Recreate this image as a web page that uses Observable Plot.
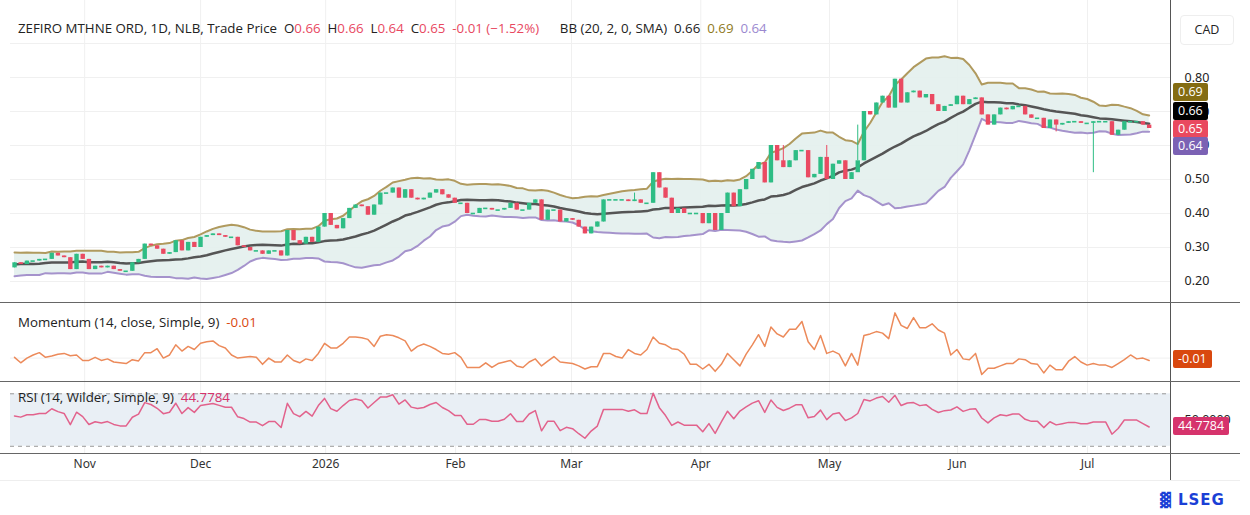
<!DOCTYPE html>
<html><head><meta charset="utf-8">
<script src="https://cdn.jsdelivr.net/npm/d3@7"></script>
<script src="https://cdn.jsdelivr.net/npm/@observablehq/plot@0.6"></script>
<style>
body{margin:0;background:#fff;font-family:"Open Sans",sans-serif;}
#wrap{position:relative;width:1250px;height:515px;overflow:hidden;}
.abs{position:absolute;white-space:nowrap;}
.box{position:absolute;left:1173px;color:#fff;font-size:12.5px;padding:0 5px;height:18px;line-height:18px;border-radius:2px;transform:translateY(-50%);}
.hdr{font-size:13.3px;color:#222;}
svg{position:absolute;left:0;}
</style></head><body><div id="wrap"></div>
<script>
// ---- data ----
const preCloses = [0.23,0.24,0.27,0.26,0.22,0.25,0.28,0.26,0.24,0.23,0.26,0.27,0.25,0.24,0.22,0.26,0.28,0.25,0.24];
const closes = [
0.255,0.25,0.26,0.26,0.265,0.265,0.283,0.275,0.27,0.235,0.28,0.265,0.235,0.245,0.24,0.245,0.235,0.23,0.23,0.255,
0.265,0.31,0.305,0.295,0.28,0.285,0.32,0.29,0.315,0.30,0.33,0.335,0.34,0.335,0.33,0.33,0.305,0.30,0.29,0.29,
0.28,0.29,0.29,0.275,0.35,0.32,0.31,0.33,0.315,0.36,0.40,0.365,0.355,0.385,0.415,0.425,0.42,0.395,0.425,0.46,
0.46,0.475,0.445,0.47,0.445,0.44,0.445,0.46,0.47,0.455,0.445,0.43,0.43,0.40,0.40,0.415,0.415,0.41,0.41,0.415,
0.43,0.41,0.41,0.43,0.44,0.38,0.41,0.41,0.375,0.385,0.38,0.36,0.34,0.36,0.375,0.44,0.44,0.44,0.44,0.435,
0.44,0.43,0.43,0.52,0.475,0.445,0.40,0.415,0.40,0.40,0.40,0.37,0.40,0.35,0.40,0.46,0.42,0.47,0.50,0.53,
0.55,0.49,0.60,0.555,0.535,0.555,0.585,0.585,0.505,0.515,0.565,0.50,0.545,0.555,0.50,0.52,0.555,0.70,0.69,0.725,
0.745,0.71,0.795,0.725,0.755,0.76,0.74,0.75,0.72,0.70,0.715,0.72,0.745,0.72,0.735,0.74,0.69,0.66,0.69,0.71,
0.705,0.715,0.715,0.69,0.68,0.68,0.65,0.675,0.66,0.665,0.67,0.67,0.665,0.665,0.67,0.67,0.67,0.63,0.645,0.67,
0.67,0.67,0.66,0.65];
const wickOverrides = [[-10, 0.52],[-53,0.60],[-48,0.66],[-16,0.64]]; // [offset from end, low]
const highOverrides = [[-60,0.60],[-84,0.46]];
const monthLabels = ["Nov","Dec","2026","Feb","Mar","Apr","May","Jun","Jul"];
const monthPos   = [11.5,30.5,51,72.3,91.3,112.5,133.6,154.6,175.9];
const priceTicks = [0.2,0.3,0.4,0.5,0.6,0.7,0.8];
const gridTicks  = [0.2,0.3,0.4,0.5,0.6,0.7,0.8,0.9];
const header = {name:"ZEFIRO MTHNE ORD, 1D, NLB, Trade Price", o:"0.66", h:"0.66", l:"0.64", c:"0.65", chg:"-0.01 (\u22121.52%)", bb:"BB (20, 2, 0, SMA)", bbMid:"0.66", bbUp:"0.69", bbLo:"0.64"};
const lastMom = -0.01, lastRSI = 44.7784;

// ---- derived ----
const all = preCloses.concat(closes);
const P = preCloses.length, N = closes.length;
const slot = 186/(N-1);
const rows = closes.map((c,k)=>{
  const g=k+P, o=all[g-1];
  const win=all.slice(g-19,g+1), m=d3.mean(win), sd=d3.deviation(win)*Math.sqrt(19/20);
  return {i:k*slot,o,c,hi:Math.max(o,c),lo:Math.min(o,c),up:c>=o,mid:m,upper:m+2*sd,lower:m-2*sd,mom:c-all[g-14]};
});
wickOverrides.forEach(([off,v])=>rows[N+off].lo=v);
highOverrides.forEach(([off,v])=>rows[N+off].hi=v);
let ag=0,al=0;
for(let g=1;g<all.length;g++){const d=all[g]-all[g-1],gn=Math.max(d,0),ls=Math.max(-d,0);
  if(g<=14){ag+=gn/14;al+=ls/14;} else {ag=(ag*13+gn)/14;al=(al*13+ls)/14;}
  if(g>=P) rows[g-P].rsi = al===0?100:100-100/(1+ag/al);}

const G="#2ebd85",R="#ea4a62";
const xd=[-0.66,189.5];
const common={width:1250,marginLeft:10,marginRight:80,x:{domain:xd,axis:null}};
const wrap=document.getElementById("wrap");
function add(el,top){el.style.top=top+"px";wrap.appendChild(el);return el;}
const vgrid=Plot.ruleX(monthPos,{stroke:"#f0f0f0"});

const main=Plot.plot({...common,height:302,marginTop:0,marginBottom:0,
  y:{domain:[0.1382,1.0265],axis:null},
  marks:[
    Plot.ruleY(gridTicks,{stroke:"#f0f0f0"}),vgrid,
    Plot.areaY(rows,{x:"i",y1:"lower",y2:"upper",fill:"#e3efed",fillOpacity:0.9}),
    Plot.lineY(rows,{x:"i",y:"upper",stroke:"#b09a5e",strokeWidth:2}),
    Plot.lineY(rows,{x:"i",y:"lower",stroke:"#a593cc",strokeWidth:2}),
    Plot.lineY(rows,{x:"i",y:"mid",stroke:"#555",strokeWidth:2.5}),
    Plot.ruleX(rows,{x:"i",y1:"lo",y2:"hi",stroke:d=>d.up?G:R,strokeWidth:1}),
    Plot.ruleX(rows.filter(d=>Math.abs(d.c-d.o)>=0.004),{x:"i",y1:d=>Math.min(d.o,d.c),y2:d=>Math.max(d.o,d.c),stroke:d=>d.up?G:R,strokeWidth:4.4}),
    Plot.ruleY(rows.filter(d=>Math.abs(d.c-d.o)<0.004),{y:"c",x1:d=>d.i-0.35,x2:d=>d.i+0.35,stroke:d=>d.up?G:R,strokeWidth:1.6}),
    Plot.text(priceTicks,{x:xd[1],y:d=>d,text:d=>d.toFixed(2),textAnchor:"start",dx:14,fontSize:12.5,fill:"#222",clip:false})
  ]});
add(main,0);

const mom=Plot.plot({...common,height:78,marginTop:0,marginBottom:0,
  y:{domain:[-0.15,0.35],axis:null},
  marks:[vgrid,Plot.ruleY([0],{stroke:"#f0f0f0"}),
    Plot.lineY(rows,{x:"i",y:"mom",stroke:"#ec8a5a",strokeWidth:1.5})]});
add(mom,303);

const rsi=Plot.plot({...common,height:98,marginTop:0,marginBottom:27,
  y:{domain:[24.5,78.6],axis:null},
  marks:[vgrid,
    Plot.rectY([0],{x1:xd[0],x2:xd[1],y1:30,y2:70,fill:"#e9eff5"}),
    Plot.ruleY([30,70],{stroke:"#999",strokeDasharray:"4,4"}),
    Plot.lineY(rows,{x:"i",y:"rsi",stroke:"#e2628c",strokeWidth:1.5}),
    Plot.text(monthLabels,{x:(d,k)=>monthPos[k],frameAnchor:"bottom",dy:14,text:d=>d,fontSize:12,fill:"#333",fontWeight:d=>d==="2026"?"bold":"normal"}),
    Plot.text([50],{x:xd[1],y:d=>d,text:["50.0000"],textAnchor:"start",dx:14,fontSize:12.5,fill:"#222"})
  ]});
add(rsi,382);

function line(css){const d=document.createElement("div");d.className="abs";d.style.cssText+=css;wrap.appendChild(d);}
line("left:1170px;top:0;width:1px;height:480px;background:#555;");
[302,381,453].forEach(t=>line(`left:0;top:${t}px;width:1240px;height:1px;background:#666;`));
line("left:0;top:480px;width:1240px;height:1px;background:#eee;");

const h=document.createElement("div");h.className="abs hdr";h.style.left="18px";h.style.top="19px";
const rc="#e8485f";
h.innerHTML=`${header.name}&nbsp;&nbsp;O<span style="color:${rc}">${header.o}</span>&nbsp;&nbsp;H<span style="color:${rc}">${header.h}</span>&nbsp;&nbsp;L<span style="color:${rc}">${header.l}</span>&nbsp;&nbsp;C<span style="color:${rc}">${header.c}</span>&nbsp;&nbsp;<span style="color:${rc}">${header.chg}</span>&nbsp;&nbsp;&nbsp;&nbsp;&nbsp;&nbsp;${header.bb}&nbsp;&nbsp;${header.bbMid}&nbsp;&nbsp;<span style="color:#8f7a1c">${header.bbUp}</span>&nbsp;&nbsp;<span style="color:#9a88cf">${header.bbLo}</span>`;
wrap.appendChild(h);
const ml=document.createElement("div");ml.className="abs hdr";ml.style.cssText+="left:18px;top:313px;";
ml.innerHTML=`Momentum (14, close, Simple, 9)&nbsp;&nbsp;<span style="color:#d9480f">${lastMom.toFixed(2)}</span>`;wrap.appendChild(ml);
const rl=document.createElement("div");rl.className="abs hdr";rl.style.cssText+="left:18px;top:388px;";
rl.innerHTML=`RSI (14, Wilder, Simple, 9)&nbsp;&nbsp;<span style="color:#d6336c">${lastRSI}</span>`;wrap.appendChild(rl);

const cad=document.createElement("div");cad.className="abs";cad.style.cssText+="left:1180px;top:15px;width:52px;height:28px;border:1px solid #eee;border-radius:4px;font-size:12.5px;line-height:28px;text-align:center;color:#222;";cad.textContent="CAD";wrap.appendChild(cad);

// value boxes (stacked so they do not overlap, as in the reference)
function box(txt,bg,py){const d=document.createElement("div");d.className="box";d.style.background=bg;d.textContent=txt;d.style.top=py+"px";wrap.appendChild(d);}
const ys=main.scale("y");
box(header.bbUp,"#846c12",ys.apply(0.756));
box(header.bbMid,"#000",ys.apply(0.700));
box(header.c,"#e9495f",ys.apply(0.647));
box(header.bbLo,"#7b62b4",ys.apply(0.596));
box(lastMom.toFixed(2),"#d9480f",303+mom.scale("y").apply(lastMom));
box(String(lastRSI),"#d6336c",382+rsi.scale("y").apply(lastRSI));

const lg=document.createElement("div");lg.className="abs";lg.style.cssText+="left:1160px;top:491px;font-size:15px;font-weight:bold;color:#1a3fd6;font-family:'DejaVu Sans';letter-spacing:1px;";
lg.innerHTML=`<span style="font-size:14px">&#x2593;</span> LSEG`;wrap.appendChild(lg);
</script></body></html>
